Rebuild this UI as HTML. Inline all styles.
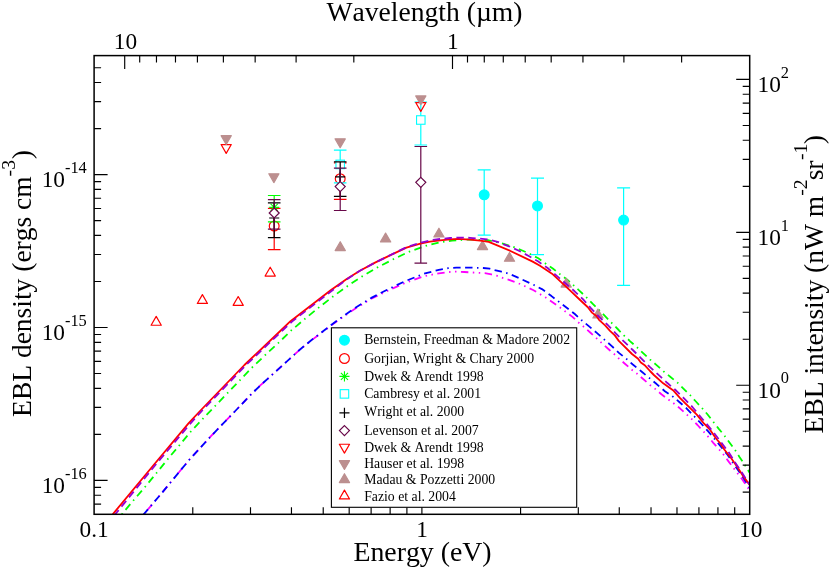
<!DOCTYPE html>
<html><head><meta charset="utf-8"><title>EBL</title>
<style>
html,body{margin:0;padding:0;background:#fff;}
svg{display:block;}
text{font-family:"Liberation Serif";fill:#000;font-kerning:none;}
.tk{font-size:23.3px;}
.sp{font-size:16.4px;}
.ax{font-size:27.8px;}
.axs{font-size:19.7px;}
.lg{font-size:13.76px;}
</style></head><body>
<svg width="830" height="569" viewBox="0 0 830 569">
<rect width="830" height="569" fill="#fff"/>
<g clip-path="url(#cp)">
<clipPath id="cp"><rect x="94.1" y="55.6" width="655.6" height="458.69999999999993"/></clipPath>
<path d="M121.8 514.3 L133.8 500 L145.3 486.7 L156.7 472.8 L168 458.8 L179.4 445.3 L190.9 431.5 L203 418.6 L215.4 405.7 L227.7 392.9 L240 380.1 L252.4 367.2 L265.3 355 L278.4 342.9 L291.3 330.4 L305 318.8 L318.7 307.6 L332.7 296.7 L347.3 286.2 L362.1 276.4 L377.5 267.4 L393.2 259.3 L409.4 251.6 L426.4 245.7 L440 242.4 L452 240.6 L470 239.5 L487.9 240.1 L502.8 243.6 L513.8 247.1 L522.2 250.5 L530 254 L538.3 258.3 L545.4 263.4 L552.8 268.5 L559.7 274 L566.9 279.4 L573.3 285.1 L580.1 291.3 L586.5 297.4 L592.8 303.9 L599 310 L605.1 316.2 L611.6 322.8 L617.7 329 L623.9 335.4 L630.2 341.3 L637.1 347.4 L643.4 353.4 L650 359.5 L656.6 365.1 L663.4 371.2 L670.2 376.7 L677.2 382.4 L683.4 388.6 L690 395 L695.9 401.5 L701.9 407.9 L707.6 414.5 L713 421.5 L718.6 428.6 L724.3 435.4 L729.1 442 L734.7 449.5 L739.3 456.7 L744.4 464.2 L749.5 472.5" fill="none" stroke="#00ff00" stroke-width="1.8" stroke-linejoin="round" stroke-dasharray="7.433 4.46 1.486 4.46" stroke-dashoffset="12.06"/>
<path d="M143.7 514.3 L160 495.2 L189.1 460 L210 437.2 L233.8 412.5 L250.8 394.7 L260 385.7 L272.5 374.4 L300 349.6 L311.6 340.2 L336.2 321.7 L355 308.7 L371.3 298.8 L386.7 291.2 L405 283 L423.9 276.3 L438.8 273.3 L449.8 272 L455.5 271.6 L464.3 272 L479.2 272.9 L484.8 273.2 L491.4 274.4 L496.7 275.7 L502.7 277.9 L509 279.8 L520 284 L533.1 290 L540.5 294.4 L545.8 297.6 L558 306 L572.2 316.6 L578.5 322.5 L583.2 326.3 L590.2 332.5 L600 341.5 L610 350.5 L614.1 354 L618.3 358 L624.9 363.7 L631.8 369.7 L636.8 373.5 L650 385 L654.8 388.6 L661.4 394.3 L668.7 399.7 L673.6 403.3 L679.9 408.3 L691.3 418.7 L697.5 425 L703.6 431.6 L707.6 436 L713.3 442.8 L719.1 449.4 L723 453.9 L728.3 461.1 L733.6 468.1 L737.3 473 L742.3 479.5 L747.6 487.5 L749.5 490.3" fill="none" stroke="#ff00ff" stroke-width="1.8" stroke-linejoin="round" stroke-dasharray="7.433 4.46 1.486 4.46 1.486 4.46" stroke-dashoffset="18.41"/>
<path d="M143.7 514.3 L160 495.2 L189.1 460 L210 437.2 L233.8 412.5 L250.8 394.7 L260 385.7 L272.5 374.4 L300 349.5 L311.6 340 L336.2 321.2 L355 308 L371.3 297.9 L386.7 290 L405 281.2 L423.9 273.8 L438.8 269.8 L448 268.2 L456.4 267.7 L468.7 267.6 L477.7 267.8 L483.1 268 L489.7 268.7 L494.5 270 L501.5 271.7 L506.8 273.1 L511.6 274.8 L518.7 277.9 L534 285 L541.9 289.1 L551.5 296.1 L574.8 314 L581.4 320 L588.5 325.9 L596.8 332.9 L611.8 346.1 L619.2 353.1 L626.3 358.8 L632.8 364.5 L642.1 372 L655.7 383.3 L664.9 391.2 L672.1 396 L679 401.7 L686.5 408.3 L694 416.1 L700.1 422.4 L708 431.2 L713.6 437.8 L719.3 444.6 L727 454.1 L731.8 461.1 L736.6 468.1 L742.8 476.9 L749.5 487.5" fill="none" stroke="#0000ff" stroke-width="1.8" stroke-linejoin="round" stroke-dasharray="7.433 4.46 7.433 4.46 1.486 4.46" stroke-dashoffset="12.82"/>
</g>
<path d="M484.2 169.8V235.1M477.7 169.8H490.7M477.7 235.1H490.7" stroke="#00ffff" stroke-width="1.2" fill="none"/>
<circle cx="484.2" cy="194.8" r="4.8999999999999995" stroke="#00ffff" stroke-width="1.2" stroke-linejoin="round" fill="#00ffff"/>
<path d="M537.5 178.2V254.6M531 178.2H544M531 254.6H544" stroke="#00ffff" stroke-width="1.2" fill="none"/>
<circle cx="537.5" cy="205.9" r="4.8999999999999995" stroke="#00ffff" stroke-width="1.2" stroke-linejoin="round" fill="#00ffff"/>
<path d="M623.6 187.9V285.4M617.1 187.9H630.1M617.1 285.4H630.1" stroke="#00ffff" stroke-width="1.2" fill="none"/>
<circle cx="623.6" cy="220.1" r="4.8999999999999995" stroke="#00ffff" stroke-width="1.2" stroke-linejoin="round" fill="#00ffff"/>
<path d="M274.2 208.3V249.6M267.9 208.3H280.5M267.9 249.6H280.5" stroke="#ff0000" stroke-width="1.2" fill="none"/>
<circle cx="274.2" cy="226" r="4.8999999999999995" stroke="#ff0000" stroke-width="1.2" stroke-linejoin="round" fill="none"/>
<path d="M340.2 162.8V199.4M333.9 162.8H346.5M333.9 199.4H346.5" stroke="#ff0000" stroke-width="1.2" fill="none"/>
<circle cx="340.2" cy="178.7" r="4.8999999999999995" stroke="#ff0000" stroke-width="1.2" stroke-linejoin="round" fill="none"/>
<path d="M274.2 195.5V221.8M267.9 195.5H280.5M267.9 221.8H280.5" stroke="#00ff00" stroke-width="1.2" fill="none"/>
<path d="M269.15 207.4H279.25M274.2 202.35V212.45M270.63 203.83L277.77 210.97M270.63 210.97L277.77 203.83" stroke="#00ff00" stroke-width="1.1" fill="none"/>
<path d="M340.2 150.1V182.9M333.9 150.1H346.5M333.9 182.9H346.5" stroke="#00ffff" stroke-width="1.2" fill="none"/>
<rect x="335.95" y="160.15" width="8.5" height="8.5" stroke="#00ffff" stroke-width="1.1" fill="#fff"/>
<path d="M420.8 102.2V145M414.5 102.2H427.1M414.5 145H427.1" stroke="#00ffff" stroke-width="1.2" fill="none"/>
<rect x="416.55" y="115.75" width="8.5" height="8.5" stroke="#00ffff" stroke-width="1.1" fill="#fff"/>
<path d="M274.2 202.9V237.6M267.9 202.9H280.5M267.9 237.6H280.5" stroke="#000" stroke-width="1.2" fill="none"/>
<path d="M269.15 218H279.25M274.2 212.95V223.05" stroke="#000" stroke-width="1.2" fill="none"/>
<path d="M340.2 161.9V196.4M333.9 161.9H346.5M333.9 196.4H346.5" stroke="#000" stroke-width="1.2" fill="none"/>
<path d="M335.15 176.8H345.25M340.2 171.75V181.85" stroke="#000" stroke-width="1.2" fill="none"/>
<path d="M274.2 199.7V229.2M267.9 199.7H280.5M267.9 229.2H280.5" stroke="#670748" stroke-width="1.2" fill="none"/>
<path d="M274.2 208L279.2 213L274.2 218L269.2 213Z" stroke="#670748" stroke-width="1.2" fill="#fff"/>
<path d="M340.2 168.1V210.5M333.9 168.1H346.5M333.9 210.5H346.5" stroke="#670748" stroke-width="1.2" fill="none"/>
<path d="M340.2 181.6L345.2 186.6L340.2 191.6L335.2 186.6Z" stroke="#670748" stroke-width="1.2" fill="#fff"/>
<path d="M420.8 146.5V263.1M414.5 146.5H427.1M414.5 263.1H427.1" stroke="#670748" stroke-width="1.2" fill="none"/>
<path d="M420.8 177.3L425.8 182.3L420.8 187.3L415.8 182.3Z" stroke="#670748" stroke-width="1.2" fill="#fff"/>
<path d="M226.2 153.39L221.1 144.56L231.3 144.56Z" stroke="#ff0000" stroke-width="1.2" stroke-linejoin="round" fill="none"/>
<path d="M420.8 111.39L415.7 102.56L425.9 102.56Z" stroke="#ff0000" stroke-width="1.2" stroke-linejoin="round" fill="none"/>
<path d="M226.2 144.49L221.1 135.66L231.3 135.66Z" stroke="#bc8f8f" stroke-width="1.2" stroke-linejoin="round" fill="#bc8f8f"/>
<path d="M273.9 182.59L268.8 173.76L279 173.76Z" stroke="#bc8f8f" stroke-width="1.2" stroke-linejoin="round" fill="#bc8f8f"/>
<path d="M340.2 147.69L335.1 138.86L345.3 138.86Z" stroke="#bc8f8f" stroke-width="1.2" stroke-linejoin="round" fill="#bc8f8f"/>
<path d="M420.8 104.79L415.7 95.96L425.9 95.96Z" stroke="#bc8f8f" stroke-width="1.2" stroke-linejoin="round" fill="#bc8f8f"/>
<path d="M597.94 309.13L592.84 317.96L603.04 317.96Z" stroke="#bc8f8f" stroke-width="1.2" stroke-linejoin="round" fill="#bc8f8f"/>
<path d="M566.18 278.23L561.08 287.07L571.28 287.07Z" stroke="#bc8f8f" stroke-width="1.2" stroke-linejoin="round" fill="#bc8f8f"/>
<path d="M509.51 252.43L504.41 261.27L514.61 261.27Z" stroke="#bc8f8f" stroke-width="1.2" stroke-linejoin="round" fill="#bc8f8f"/>
<path d="M482.5 240.72L477.4 249.56L487.6 249.56Z" stroke="#bc8f8f" stroke-width="1.2" stroke-linejoin="round" fill="#bc8f8f"/>
<path d="M438.93 228.19L433.83 237.02L444.03 237.02Z" stroke="#bc8f8f" stroke-width="1.2" stroke-linejoin="round" fill="#bc8f8f"/>
<path d="M385.59 233.09L380.49 241.92L390.69 241.92Z" stroke="#bc8f8f" stroke-width="1.2" stroke-linejoin="round" fill="#bc8f8f"/>
<path d="M340.25 241.72L335.15 250.55L345.35 250.55Z" stroke="#bc8f8f" stroke-width="1.2" stroke-linejoin="round" fill="#bc8f8f"/>
<path d="M156.2 316.41L151.1 325.24L161.3 325.24Z" stroke="#ff0000" stroke-width="1.2" stroke-linejoin="round" fill="none"/>
<path d="M202.4 294.61L197.3 303.44L207.5 303.44Z" stroke="#ff0000" stroke-width="1.2" stroke-linejoin="round" fill="none"/>
<path d="M238.2 296.51L233.1 305.34L243.3 305.34Z" stroke="#ff0000" stroke-width="1.2" stroke-linejoin="round" fill="none"/>
<path d="M270.2 267.21L265.1 276.04L275.3 276.04Z" stroke="#ff0000" stroke-width="1.2" stroke-linejoin="round" fill="none"/>
<g clip-path="url(#cp)">
<path d="M112.7 514.3 L154.5 464 L188.7 423.2 L201 410 L244.4 365 L281.3 330 L290.5 321.2 L331 290 L346.7 279 L359.9 270.7 L375 262.6 L390 255.4 L406.4 247.6 L420.4 243.7 L430 241.7 L440 240.4 L450 239.3 L458.1 238.9 L470 239.6 L480 240.7 L488.8 241.9 L509.9 250.7 L532.7 261.6 L540 265.8 L552 273.7 L570 290.3 L580.1 300 L587.6 307 L592 312.6 L596.4 316 L599 319.8 L605.1 325.4 L610 330.8 L614.8 335.4 L618.8 340.9 L632 354 L638.1 358.8 L640.8 362.6 L645.1 365.6 L650 371 L653.9 375 L663.2 383.3 L673.7 390.8 L679.9 397.8 L685.1 403.1 L690 407.9 L697 414.9 L704.1 423.7 L710.2 429.9 L715.5 437.8 L717.3 440 L720.8 443.9 L724.5 449.8 L731.4 458.5 L737.5 467.2 L743.7 476.9 L749.5 484.7" fill="none" stroke="#ff0000" stroke-width="1.8" stroke-linejoin="round"/>
<path d="M115.2 514.3 L156.2 464 L160.5 459 L190.3 423.6 L202.7 410 L246.1 365 L283 330 L292 321.6 L332.5 290.3 L347 279.2 L359.9 270.8 L375 262.6 L390 255.3 L406.4 247.2 L420.4 242.7 L433 239.9 L440 239 L450 238 L459 237.6 L470 237.8 L480 238.7 L487.1 239.3 L497.6 241.9 L509 246.3 L517.8 250.2 L529.2 256.2 L537.9 261.3 L547.6 268 L556.8 275.9 L566 283.8 L574.6 291.3 L582.9 299.1 L591.1 308.3 L599.4 317.1 L607.8 325 L615.5 333.1 L624.1 341.7 L632.8 350 L641.2 358.4 L649.5 366.7 L658 374.4 L667.1 382.8 L675.9 390.3 L684.3 398.7 L692.4 407 L700.1 416.3 L707.6 425 L715 434.3 L721.7 443 L728.7 452.3 L735.3 462.8 L741.9 472.5 L749.5 484.5" fill="none" stroke="#9400d3" stroke-width="1.8" stroke-linejoin="round" stroke-dasharray="7.433 4.46" stroke-dashoffset="1.97"/>
</g>
<rect x="94.1" y="55.6" width="655.6" height="458.69999999999993" fill="none" stroke="#000" stroke-width="1.5"/>
<path d="M192.78 514.3v-7M250.5 514.3v-7M291.46 514.3v-7M323.22 514.3v-7M349.18 514.3v-7M371.12 514.3v-7M390.13 514.3v-7M406.9 514.3v-7M421.9 514.3v-13.5M520.58 514.3v-7M578.3 514.3v-7M619.26 514.3v-7M651.02 514.3v-7M676.98 514.3v-7M698.92 514.3v-7M717.93 514.3v-7M734.7 514.3v-7M124.7 55.6v13.5M452.5 55.6v13.5M353.82 55.6v7M296.1 55.6v7M255.15 55.6v7M223.38 55.6v7M197.42 55.6v7M175.48 55.6v7M156.47 55.6v7M139.7 55.6v7M681.62 55.6v7M623.9 55.6v7M582.95 55.6v7M551.18 55.6v7M525.22 55.6v7M503.28 55.6v7M484.27 55.6v7M467.5 55.6v7M94.1 504.06h7M94.1 495.2h7M94.1 487.38h7M94.1 480.38h13.5M94.1 434.35h7M94.1 407.43h7M94.1 388.32h7M94.1 373.51h7M94.1 361.4h7M94.1 351.16h7M94.1 342.3h7M94.1 334.48h7M94.1 327.48h13.5M94.1 281.45h7M94.1 254.53h7M94.1 235.42h7M94.1 220.61h7M94.1 208.5h7M94.1 198.26h7M94.1 189.4h7M94.1 181.58h7M94.1 174.58h13.5M94.1 128.55h7M94.1 101.63h7M94.1 82.52h7M94.1 67.71h7M749.7 492.1h-7M749.7 465.17h-7M749.7 446.07h-7M749.7 431.25h-7M749.7 419.15h-7M749.7 408.91h-7M749.7 400.04h-7M749.7 392.22h-7M749.7 385.23h-13.5M749.7 339.2h-7M749.7 312.27h-7M749.7 293.17h-7M749.7 278.35h-7M749.7 266.25h-7M749.7 256.01h-7M749.7 247.14h-7M749.7 239.32h-7M749.7 232.33h-13.5M749.7 186.3h-7M749.7 159.37h-7M749.7 140.27h-7M749.7 125.45h-7M749.7 113.35h-7M749.7 103.11h-7M749.7 94.24h-7M749.7 86.42h-7M749.7 79.43h-13.5" stroke="#000" stroke-width="1.15" fill="none"/>
<rect x="331.4" y="327.8" width="245.3" height="179.5" fill="#fff" stroke="#000" stroke-width="1.1"/>
<circle cx="344.45" cy="340.2" r="4.8999999999999995" stroke="#00ffff" stroke-width="1.2" stroke-linejoin="round" fill="#00ffff"/>
<circle cx="344.45" cy="358.5" r="4.8999999999999995" stroke="#ff0000" stroke-width="1.2" stroke-linejoin="round" fill="none"/>
<path d="M339.4 376.4H349.5M344.45 371.35V381.45M340.88 372.83L348.02 379.97M340.88 379.97L348.02 372.83" stroke="#00ff00" stroke-width="1.1" fill="none"/>
<rect x="340.2" y="389.65" width="8.5" height="8.5" stroke="#00ffff" stroke-width="1.1" fill="#fff"/>
<path d="M339.4 412.9H349.5M344.45 407.85V417.95" stroke="#000" stroke-width="1.2" fill="none"/>
<path d="M344.45 425.6L349.45 430.6L344.45 435.6L339.45 430.6Z" stroke="#670748" stroke-width="1.2" fill="#fff"/>
<path d="M344.45 453.09L339.35 444.26L349.55 444.26Z" stroke="#ff0000" stroke-width="1.2" stroke-linejoin="round" fill="none"/>
<path d="M344.45 469.49L339.35 460.66L349.55 460.66Z" stroke="#bc8f8f" stroke-width="1.2" stroke-linejoin="round" fill="#bc8f8f"/>
<path d="M344.45 473.71L339.35 482.54L349.55 482.54Z" stroke="#bc8f8f" stroke-width="1.2" stroke-linejoin="round" fill="#bc8f8f"/>
<path d="M344.45 490.11L339.35 498.94L349.55 498.94Z" stroke="#ff0000" stroke-width="1.2" stroke-linejoin="round" fill="none"/>
<g style="filter:grayscale(1)">
<text class="tk" x="94.1" y="537.3" text-anchor="middle" transform="rotate(0.001 94.1 537.3)">0.1</text>
<text class="tk" x="422.2" y="537" text-anchor="middle" transform="rotate(0.001 421.9 537)">1</text>
<text class="tk" x="750.7" y="537" text-anchor="middle" transform="rotate(0.001 749.7 537)">10</text>
<text class="tk" x="125.5" y="49" text-anchor="middle" transform="rotate(0.001 124.7 49)">10</text>
<text class="tk" x="452.8" y="48.6" text-anchor="middle" transform="rotate(0.001 452.5 48.6)">1</text>
<text class="tk" x="86.8" y="187.18" text-anchor="end" transform="rotate(0.001 86.8 187.18)">10<tspan class="sp" dy="-14.1">-14</tspan></text>
<text class="tk" x="86.8" y="340.08" text-anchor="end" transform="rotate(0.001 86.8 340.08)">10<tspan class="sp" dy="-14.1">-15</tspan></text>
<text class="tk" x="86.8" y="492.98" text-anchor="end" transform="rotate(0.001 86.8 492.98)">10<tspan class="sp" dy="-14.1">-16</tspan></text>
<text class="tk" x="757.5" y="397.53" transform="rotate(0.001 757.5 397.53)">10<tspan class="sp" dy="-14.1">0</tspan></text>
<text class="tk" x="757.5" y="244.63" transform="rotate(0.001 757.5 244.63)">10<tspan class="sp" dy="-14.1">1</tspan></text>
<text class="tk" x="757.5" y="91.73" transform="rotate(0.001 757.5 91.73)">10<tspan class="sp" dy="-14.1">2</tspan></text>
<text class="ax" style="font-size:27.6px" x="424.5" y="20.8" text-anchor="middle" transform="rotate(0.001 424.5 20.8)">Wavelength (µm)</text>
<text class="ax" x="422.5" y="561.4" text-anchor="middle" transform="rotate(0.001 422.5 561.4)">Energy (eV)</text>
<text class="ax" style="font-size:27.5px" transform="translate(31 416.9) rotate(-89.999)">EBL density (ergs cm<tspan class="axs" dx="-0.1" dy="-16">-3</tspan><tspan dx="0.8" dy="16">)</tspan></text>
<text class="ax" style="font-size:27.5px" transform="translate(823 433.4) rotate(-89.999)">EBL intensity (nW m<tspan class="axs" dx="0" dy="-16">-2</tspan><tspan dx="-0.9" dy="16">sr</tspan><tspan class="axs" dx="0.5" dy="-16">-1</tspan><tspan dx="-0.7" dy="16">)</tspan></text>
<text class="lg" x="364.2" y="343.9" transform="rotate(0.001 364.2 343.9)">Bernstein, Freedman &amp; Madore 2002</text>
<text class="lg" x="364.2" y="362.6" transform="rotate(0.001 364.2 362.6)">Gorjian, Wright &amp; Chary 2000</text>
<text class="lg" x="364.2" y="380.9" transform="rotate(0.001 364.2 380.9)">Dwek &amp; Arendt 1998</text>
<text class="lg" x="364.2" y="398.2" transform="rotate(0.001 364.2 398.2)">Cambresy et al. 2001</text>
<text class="lg" x="364.2" y="416" transform="rotate(0.001 364.2 416)">Wright et al. 2000</text>
<text class="lg" x="364.2" y="435.3" transform="rotate(0.001 364.2 435.3)">Levenson et al. 2007</text>
<text class="lg" x="364.2" y="451.5" transform="rotate(0.001 364.2 451.5)">Dwek &amp; Arendt 1998</text>
<text class="lg" x="364.2" y="468" transform="rotate(0.001 364.2 468)">Hauser et al. 1998</text>
<text class="lg" x="364.2" y="484.2" transform="rotate(0.001 364.2 484.2)">Madau &amp; Pozzetti 2000</text>
<text class="lg" x="364.2" y="501.3" transform="rotate(0.001 364.2 501.3)">Fazio et al. 2004</text>
</g>
</svg></body></html>
